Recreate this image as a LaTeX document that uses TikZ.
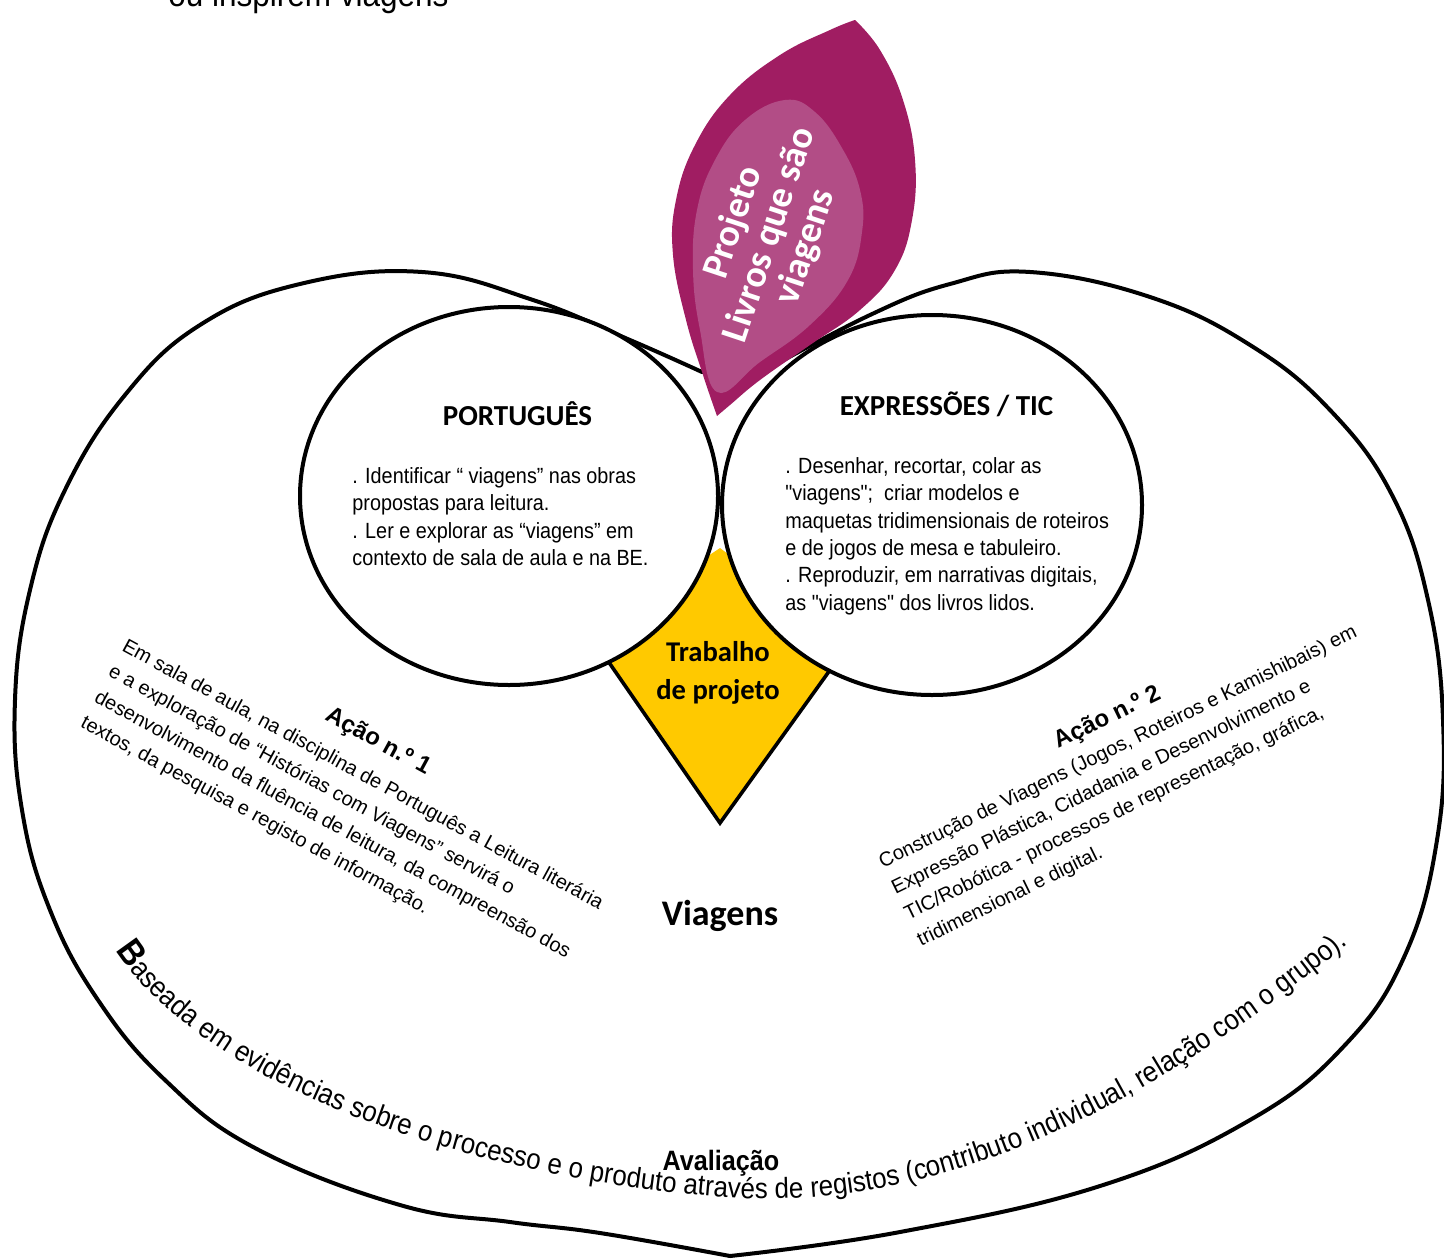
\documentclass[tikz,border=0pt]{standalone}
\usepackage{fontspec}
\setmainfont{Liberation Sans}
\newfontfamily\narrowfont[FakeStretch=0.9]{Liberation Sans}
\newfontfamily\calibri{Carlito}
\usetikzlibrary{shapes.geometric,decorations.text}
\definecolor{leafdark}{HTML}{A01D62}
\definecolor{leaflight}{HTML}{B24D86}
\definecolor{kiteyellow}{HTML}{FFC900}
\begin{document}
\begin{tikzpicture}[x=0.5pt,y=-0.5pt,
  outline/.style={line width=2pt, line join=round, line cap=round},
  bubble/.style={ellipse, draw, fill=white, line width=2pt, inner sep=0},
  bodytext/.style={font=\narrowfont\fontsize{11}{13.7}\selectfont, align=left, inner sep=0, anchor=north west},
  headtext/.style={font=\calibri\bfseries\fontsize{14.5}{17}\selectfont, inner sep=0, anchor=base},
  actiontext/.style={font=\fontsize{10}{14.5}\selectfont, align=left, inner sep=0, anchor=north west},
  actiontitle/.style={font=\bfseries\fontsize{12}{14}\selectfont, inner sep=0}]
\useasboundingbox (0,0) rectangle (1444,1258);

% outer heart shape
\draw[outline] plot[smooth, tension=0.7] coordinates {(702,372) (630,340) (533,300) (422,272) (300,284) (200,325) (125,395) (65,490) (30,590) (15,700) (22,810) (50,910) (98,1000) (165,1080) (255,1148) (400,1205) (510,1222) (600,1233) (730,1256)};
\draw[outline] plot[smooth, tension=0.7] coordinates {(730,1256) (900,1232) (1100,1186) (1250,1120) (1345,1045) (1405,955) (1437,840) (1443,720) (1428,600) (1392,495) (1330,410) (1250,345) (1150,297) (1030,272) (950,284) (870,315) (762,372)};

% leaf
\fill[leafdark] plot[smooth, tension=0.7] coordinates {(717,416) (703,375) (686,320) (673,255) (676,200) (695,145) (730,95) (780,55) (830,30) (855,20)} -- plot[smooth, tension=0.7] coordinates {(855,20) (880,50) (903,100) (915,160) (912,220) (895,270) (860,310) (810,345) (760,380) (730,405) (717,416)} -- cycle;
\fill[leaflight] plot[smooth cycle, tension=0.7] coordinates {(717,392) (700,330) (693,270) (697,210) (715,160) (745,120) (785,100) (815,112) (842,148) (860,190) (862,232) (848,280) (810,325) (760,362)};
\node[font=\calibri\bfseries\fontsize{19}{19}\selectfont, text=white, align=center, rotate=71.6, inner sep=0] (leaftext) at (770,235) {Projeto\\Livros que são\\viagens};

% diamond
\fill[kiteyellow] (720,548) -- (590,635) -- (720,823) -- (848,645) -- cycle;
\draw[line width=1.8pt, line join=miter] (590,635) -- (720,823) -- (848,645);

% circles
\node[bubble, minimum width=209pt, minimum height=189pt] (portcircle) at (509,496) {};
\node[bubble, minimum width=210pt, minimum height=190pt] (expcircle) at (932,505) {};

\node[headtext] (porthead) at (517.5,425) {PORTUGUÊS};
\node[headtext] (exphead) at (946.5,415) {EXPRESSÕES / TIC};

\node[bodytext] (porttext) at (352,467) {. Identificar “ viagens” nas obras\\propostas para leitura.\\. Ler e explorar as “viagens” em\\contexto de sala de aula e na BE.};
\node[bodytext] (exptext) at (785,457) {. Desenhar, recortar, colar as\\"viagens";~ criar modelos e\\maquetas tridimensionais de roteiros\\e de jogos de mesa e tabuleiro.\\. Reproduzir, em narrativas digitais,\\as "viagens" dos livros lidos.};

\node[font=\calibri\bfseries\fontsize{14.3}{19}\selectfont, align=center, inner sep=0] (trab) at (718,673) {Trabalho\\de projeto};

% actions
\node[actiontext, rotate=-28.5] (a1text) at (128,637) {Em sala de aula, na disciplina de Português a Leitura literária\\e a exploração de “Histórias com Viagens” servirá o\\desenvolvimento da fluência de leitura, da compreensão dos\\textos, da pesquisa e registo de informação.};
\node[actiontitle, rotate=-28.5] (a1title) at (378,742) {Ação n.º 1};
\node[actiontext, rotate=26] (a2text) at (876,855) {Construção de Viagens (Jogos, Roteiros e Kamishibais) em\\Expressão Plástica, Cidadania e Desenvolvimento e\\TIC/Robótica - processos de representação, gráfica,\\tridimensional e digital.};
\node[actiontitle, rotate=26] (a2title) at (1108,718) {Ação n.º 2};

\node[font=\calibri\bfseries\fontsize{18}{20}\selectfont, inner sep=0, anchor=base] (viagens) at (720,925) {Viagens};

% bottom curved text
{\narrowfont\fontsize{14.4}{16}\selectfont
\path[decorate, decoration={text along path,
  text={|\bfseries\fontsize{18}{18}\selectfont|B||aseada em evidências sobre o processo e o produto através de registos (contributo individual, relação com o grupo).}}]
  (116,950) .. controls (200,1080) and (450,1175) .. (720,1197) .. controls (1000,1218) and (1228,1040) .. (1366,930);
}
\node[font=\narrowfont\bfseries\fontsize{14}{16}\selectfont, inner sep=0, anchor=base] (aval) at (721,1170) {Avaliação};

\node[font=\narrowfont\fontsize{17.5}{19}\selectfont, inner sep=0, anchor=base west] (topfrag) at (168,6) {ou inspirem viagens};
\end{tikzpicture}
\end{document}
